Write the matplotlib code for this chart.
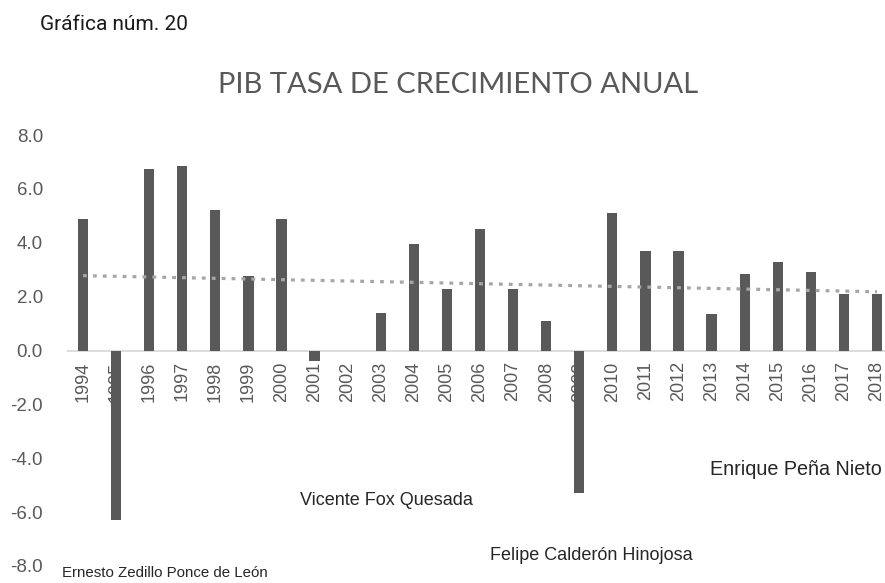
import numpy as np
import matplotlib
matplotlib.use("Agg")
import matplotlib.pyplot as plt
from matplotlib import font_manager

years = [str(y) for y in range(1994, 2019)]
growth = [4.9, -6.3, 6.75, 6.85, 5.2, 2.75, 4.9, -0.4, 0.0, 1.4, 3.95, 2.3,
          4.5, 2.3, 1.1, -5.3, 5.1, 3.7, 3.7, 1.35, 2.85, 3.3, 2.9, 2.1, 2.1]
yticks = [8, 6, 4, 2, 0, -2, -4, -6, -8]

presidents = ["Ernesto Zedillo Ponce de León", "Vicente Fox Quesada",
              "Felipe Calderón Hinojosa", "Enrique Peña Nieto"]
pres_pos = [(-0.63, -8.25), (6.55, -5.55), (12.3, -7.6), (18.95, -4.4)]
pres_size = [10.8, 13, 13, 14.2]

names = {f.name for f in font_manager.fontManager.ttflist}
narrow = "Liberation Sans Narrow" if "Liberation Sans Narrow" in names else "Liberation Sans"
title_font = "Lato" if "Lato" in names else "DejaVu Sans"

fig = plt.figure(figsize=(8.85, 5.83), dpi=100)
ax = fig.add_axes([66.5 / 885, 17 / 583, 827 / 885, 431 / 583])

x = np.arange(len(years))
ax.bar(x, growth, width=0.31, color="#595959", zorder=2)
ax.axhline(0, color="#D9D9D9", lw=1.3, zorder=1)

coef = np.polyfit(x, growth, 1)
ax.plot(x, np.polyval(coef, x), color="#A6A6A6", lw=2.3,
        linestyle=(0, (1.2, 1.9)), zorder=3)

ax.set_xlim(-0.5, len(years) - 0.5)
ax.set_ylim(-8, 8)
ax.set_axisbelow(True)
for s in ax.spines.values():
    s.set_visible(False)

ax.set_yticks(yticks)
ax.set_yticklabels([f"{v:.1f}" for v in yticks], family=narrow, fontsize=13.5,
                   color="#595959")
ax.tick_params(axis="y", length=0, pad=17)

ax.set_xticks(x)
ax.set_xticklabels([])
for i, yr in enumerate(years):
    ax.text(i, -0.4, yr, rotation=90, ha="center", va="top", fontsize=13,
            family="Liberation Sans", color="#595959", zorder=1)
ax.tick_params(axis="x", length=0)

for name, (px, py), fs in zip(presidents, pres_pos, pres_size):
    ax.text(px, py, name, ha="left", va="center", fontsize=fs, family=narrow,
            color="#262626", clip_on=False)

fig.text(458 / 885, 1 - 85 / 583, "PIB TASA DE CRECIMIENTO ANUAL", ha="center",
         va="center", fontsize=21, family=title_font, color="#595959")
fig.text(40 / 885, 1 - 24 / 583, "Gráfica núm. 20", ha="left", va="center",
         fontsize=15, family="Roboto", color="#1a1a1a")

fig.savefig("out.png", dpi=100)
